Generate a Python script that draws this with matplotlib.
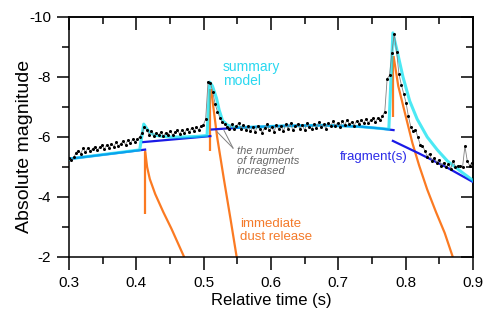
import numpy as np
import matplotlib
matplotlib.use("Agg")
import matplotlib.pyplot as plt
from matplotlib.ticker import MultipleLocator, FixedLocator

plt.rcParams['font.family'] = ['Liberation Sans', 'DejaVu Sans']
plt.rcParams['axes.unicode_minus'] = False

# ---- observed light curve (relative time sampled every 0.0035 s from 0.300 s) ----
obs_start = 0.300
obs_step = 0.0035
obs_mag = [
    -5.30, -5.22, -5.32, -5.48, -5.55, -5.45, -5.62, -5.50, -5.64, -5.53,
    -5.60, -5.68, -5.56, -5.66, -5.72, -5.60, -5.74, -5.64, -5.77, -5.68,
    -5.82, -5.70, -5.78, -5.87, -5.74, -5.90, -5.79, -5.92, -5.83, -5.94,
    -6.00, -6.15, -6.32, -6.25, -6.08, -6.20, -6.03, -6.14, -6.06, -6.17,
    -6.03, -6.14, -6.08, -6.20, -6.06, -6.16, -6.22, -6.10, -6.24, -6.14,
    -6.27, -6.16, -6.30, -6.20, -6.32, -6.24, -6.36, -6.40, -6.60, -7.85,
    -7.80, -7.50, -7.10, -6.85, -6.65, -6.50, -6.42, -6.35, -6.28, -6.42,
    -6.26, -6.36, -6.47, -6.28, -6.40, -6.22, -6.36, -6.19, -6.33, -6.17,
    -6.37, -6.26, -6.15, -6.31, -6.42, -6.22, -6.34, -6.18, -6.40, -6.26,
    -6.36, -6.20, -6.42, -6.28, -6.47, -6.22, -6.36, -6.44, -6.27, -6.40,
    -6.22, -6.47, -6.33, -6.28, -6.44, -6.31, -6.50, -6.33, -6.42, -6.28,
    -6.47, -6.36, -6.52, -6.38, -6.47, -6.33, -6.52, -6.40, -6.57, -6.43,
    -6.50, -6.38, -6.54, -6.43, -6.57, -6.46, -6.60, -6.48, -6.56, -6.62,
    -6.50, -6.64, -6.56, -6.70, -6.85, -7.95, -8.05, -8.80, -9.45, -8.85,
    -8.10, -7.75, -7.45, -7.15, -6.70, -6.35, -6.20, -6.25, -6.00, -5.75,
    -5.70, -5.55, -5.35, -5.45, -5.20, -5.30, -5.15, -5.25, -5.05, -5.15,
    -5.00, -5.10, -4.95, -5.20, -5.00, -5.05, -5.05, -5.00, -5.70, -5.20,
    -5.05, -5.15,
]
obs_time = obs_start + obs_step * np.arange(len(obs_mag))

# ---- fragment(s) model segments ----
fragA_t = [0.300, 0.413]
fragA_m = [-5.27, -5.58]
fragB_t = [0.410, 0.510]
fragB_m = [-5.83, -6.03]
fragC_t = [0.512, 0.560, 0.620, 0.680, 0.730, 0.760, 0.782]
fragC_m = [-6.25, -6.32, -6.37, -6.39, -6.35, -6.29, -6.23]
fragD_t = [0.781, 0.820, 0.860, 0.900]
fragD_m = [-5.87, -5.45, -5.00, -4.50]

# ---- summary model ----
summ_t = [0.300, 0.405, 0.411, 0.418, 0.426, 0.435, 0.450, 0.470, 0.490, 0.505,
          0.509, 0.513, 0.519, 0.523, 0.528, 0.535, 0.545, 0.560, 0.620, 0.680,
          0.730, 0.760, 0.775, 0.781, 0.787, 0.796, 0.806, 0.817, 0.832, 0.847,
          0.862, 0.885, 0.900]
summ_m = [-5.27, -5.57, -6.43, -6.20, -6.07, -6.03, -6.00, -6.00, -6.02, -6.05,
          -7.83, -7.70, -7.30, -6.90, -6.55, -6.40, -6.33, -6.32, -6.37, -6.39,
          -6.35, -6.29, -6.26, -9.47, -8.90, -8.00, -7.20, -6.60, -6.00, -5.57,
          -5.20, -4.80, -4.55]

# ---- immediate dust release ----
dust1_t = [0.413, 0.416, 0.420, 0.428, 0.440, 0.452, 0.462, 0.471]
dust1_m = [-5.55, -5.00, -4.60, -4.10, -3.50, -2.95, -2.45, -2.00]
dust1v_t = [0.413, 0.413]
dust1v_m = [-5.50, -3.45]
dust2_t = [0.511, 0.520, 0.530, 0.540, 0.549]
dust2_m = [-7.60, -6.00, -4.60, -3.25, -2.00]
dust2v_t = [0.509, 0.509]
dust2v_m = [-7.60, -5.55]
dust3_t = [0.782, 0.789, 0.800, 0.810, 0.820, 0.832, 0.845, 0.858, 0.870]
dust3_m = [-8.70, -7.70, -6.70, -5.80, -5.05, -4.25, -3.50, -2.80, -2.00]
dust3v_t = [0.781, 0.781]
dust3v_m = [-8.70, -6.67]

# annotation pointer lines
ann_tip = (0.5436, -5.63)
ann_targets = [(0.520, -6.17), (0.530, -6.23)]

x_ticks = [0.3, 0.4, 0.5, 0.6, 0.7, 0.8, 0.9]
x_labels = ['0.3', '0.4', '0.5', '0.6', '0.7', '0.8', '0.9']
y_ticks = [-10, -8, -6, -4, -2]
y_labels = ['-10', '-8', '-6', '-4', '-2']

CYAN = '#00e0f0'
BLUE = '#1a1ae6'
ORANGE = '#fb7a22'

fig = plt.figure(figsize=(4.91, 3.18), dpi=100)
ax = fig.add_axes([69 / 491, 1 - 257 / 318, (473 - 69) / 491, (257 - 17) / 318])

# orange dust
for t, m in [(dust1_t, dust1_m), (dust1v_t, dust1v_m), (dust2_t, dust2_m),
             (dust2v_t, dust2v_m), (dust3_t, dust3_m), (dust3v_t, dust3v_m)]:
    ax.plot(t, m, color=ORANGE, lw=1.6, solid_capstyle='butt', zorder=2)

# fragments
for t, m in [(fragA_t, fragA_m), (fragB_t, fragB_m), (fragC_t, fragC_m), (fragD_t, fragD_m)]:
    ax.plot(t, m, color=BLUE, lw=1.6, zorder=3)

# summary
ax.plot(summ_t, summ_m, color=CYAN, lw=2.2, alpha=0.7, zorder=4)

# observations
ax.plot(obs_time, obs_mag, color='#808080', lw=0.6, zorder=5)
ax.plot(obs_time, obs_mag, ls='none', marker='o', ms=2.2, mfc='black', mec='black',
        mew=0, zorder=6)

# annotation lines
for tx, ty in ann_targets:
    ax.plot([ann_tip[0], tx], [ann_tip[1], ty], color='#808080', lw=0.7, zorder=5)

ax.text(0.5287, -8.1, 'summary\nmodel', color='#2ad8f0', fontsize=10,
        ha='left', va='center', linespacing=1.0)
ax.text(0.7025, -5.33, 'fragment(s)', color='#2a2ae8', fontsize=9.5,
        ha='left', va='center')
ax.text(0.554, -2.88, 'immediate\ndust release', color='#f47a2a', fontsize=9.5,
        ha='left', va='center', linespacing=1.05)
ax.text(0.5495, -5.2, 'the number\nof fragments\nincreased', color='#666666',
        fontsize=8, style='italic', ha='left', va='center', linespacing=1.0)

ax.set_xlim(0.3, 0.9)
ax.set_ylim(-2, -10)
ax.xaxis.set_major_locator(FixedLocator(x_ticks))
ax.set_xticklabels(x_labels)
ax.xaxis.set_minor_locator(MultipleLocator(0.05))
ax.yaxis.set_major_locator(FixedLocator(y_ticks))
ax.set_yticklabels(y_labels)
ax.yaxis.set_minor_locator(MultipleLocator(1))

ax.tick_params(axis='both', which='major', length=9, width=1.1, labelsize=11, color='black')
ax.tick_params(axis='both', which='minor', length=5, width=1.1)
ax.tick_params(axis='x', which='both', direction='out', top=False, pad=5)
ax.tick_params(axis='y', which='both', direction='out', right=False, pad=4)

sx = ax.secondary_xaxis('top')
sx.set_xticks(x_ticks)
sx.xaxis.set_minor_locator(MultipleLocator(0.05))
sx.tick_params(which='major', direction='in', length=9, width=1.1, labeltop=False)
sx.tick_params(which='minor', direction='in', length=5, width=1.1)
sx.spines['top'].set_linewidth(1.1)
sy = ax.secondary_yaxis('right')
sy.set_yticks(y_ticks)
sy.yaxis.set_minor_locator(MultipleLocator(1))
sy.tick_params(which='major', direction='in', length=9, width=1.1, labelright=False)
sy.tick_params(which='minor', direction='in', length=5, width=1.1)
sy.spines['right'].set_linewidth(1.1)
for s in ax.spines.values():
    s.set_linewidth(1.1)

ax.set_xlabel('Relative time (s)', fontsize=12, labelpad=2)
ax.set_ylabel('Absolute magnitude', fontsize=14)
ax.yaxis.set_label_coords(-0.088, 0.46)

fig.savefig('out.png', dpi=100)
